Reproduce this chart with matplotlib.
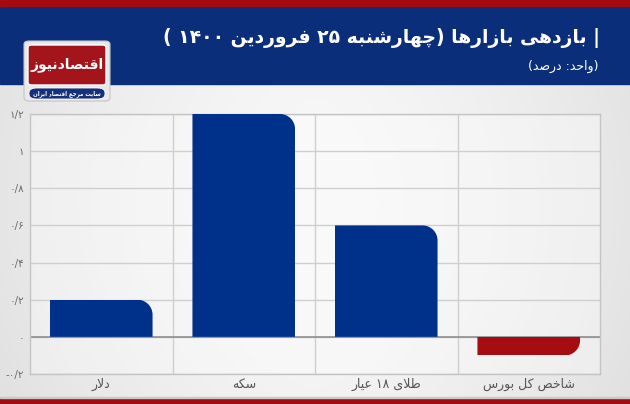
import matplotlib
matplotlib.use("Agg")
import matplotlib.pyplot as plt
import numpy as np
from matplotlib.path import Path
from matplotlib.patches import Rectangle, FancyBboxPatch
from matplotlib.transforms import IdentityTransform

# ---------------- data ----------------
categories = ["دلار", "سکه", "طلای ۱۸ عیار", "شاخص کل بورس"]
values = [0.2, 1.2, 0.6, -0.1]
bar_colors = ["#00318a", "#00318a", "#00318a", "#a50d12"]
yticks = [-0.2, 0.0, 0.2, 0.4, 0.6, 0.8, 1.0, 1.2]
ytick_labels = ["-۰/۲", "۰", "۰/۲", "۰/۴", "۰/۶", "۰/۸", "۱", "۱/۲"]
title = "| بازدهی بازارها (چهارشنبه ۲۵ فروردین ۱۴۰۰ )"
subtitle = "(واحد: درصد)"
logo_main = "اقتصادنیوز"
logo_sub = "سایت مرجع اقتصاد ایران"

# ---------------- minimal Persian shaper ----------------
FORMS = {
    'ا': ('\uFE8D', '\uFE8E', None, None),
    'ب': ('\uFE8F', '\uFE90', '\uFE91', '\uFE92'),
    'ت': ('\uFE95', '\uFE96', '\uFE97', '\uFE98'),
    'ج': ('\uFE9D', '\uFE9E', '\uFE9F', '\uFEA0'),
    'ح': ('\uFEA1', '\uFEA2', '\uFEA3', '\uFEA4'),
    'خ': ('\uFEA5', '\uFEA6', '\uFEA7', '\uFEA8'),
    'د': ('\uFEA9', '\uFEAA', None, None),
    'ر': ('\uFEAD', '\uFEAE', None, None),
    'ز': ('\uFEAF', '\uFEB0', None, None),
    'س': ('\uFEB1', '\uFEB2', '\uFEB3', '\uFEB4'),
    'ش': ('\uFEB5', '\uFEB6', '\uFEB7', '\uFEB8'),
    'ص': ('\uFEB9', '\uFEBA', '\uFEBB', '\uFEBC'),
    'ط': ('\uFEC1', '\uFEC2', '\uFEC3', '\uFEC4'),
    'ع': ('\uFEC9', '\uFECA', '\uFECB', '\uFECC'),
    'ف': ('\uFED1', '\uFED2', '\uFED3', '\uFED4'),
    'ق': ('\uFED5', '\uFED6', '\uFED7', '\uFED8'),
    'ل': ('\uFEDD', '\uFEDE', '\uFEDF', '\uFEE0'),
    'م': ('\uFEE1', '\uFEE2', '\uFEE3', '\uFEE4'),
    'ن': ('\uFEE5', '\uFEE6', '\uFEE7', '\uFEE8'),
    'ه': ('\uFEE9', '\uFEEA', '\uFEEB', '\uFEEC'),
    'و': ('\uFEED', '\uFEEE', None, None),
    'ی': ('\uFBFC', '\uFBFD', '\uFBFE', '\uFBFF'),
    'ک': ('\uFB8E', '\uFB8F', '\uFB90', '\uFB91'),
    'چ': ('\uFB7A', '\uFB7B', '\uFB7C', '\uFB7D'),
}
RIGHT_ONLY = set('ادذرزژو')


def _joins_next(c):
    return c in FORMS and c not in RIGHT_ONLY


def shape(text):
    out = []
    n = len(text)
    i = 0
    while i < n:
        c = text[i]
        if c not in FORMS:
            out.append(c)
            i += 1
            continue
        jp = i > 0 and _joins_next(text[i - 1])
        if c == 'ل' and i + 1 < n and text[i + 1] == 'ا':
            out.append('\uFEFC' if jp else '\uFEFB')
            i += 2
            continue
        jn = _joins_next(c) and i + 1 < n and text[i + 1] in FORMS
        iso, fin, ini, med = FORMS[c]
        if jp and jn:
            out.append(med)
        elif jp:
            out.append(fin)
        elif jn:
            out.append(ini)
        else:
            out.append(iso)
        i += 1
    return ''.join(out)


DIGITS = set('۰۱۲۳۴۵۶۷۸۹0123456789')
MIRROR = {'(': ')', ')': '('}


def rtl(text):
    s = shape(text)
    tokens = []
    cur = ''
    cur_d = None
    for ch in s:
        d = ch in DIGITS
        if cur and d != cur_d:
            tokens.append((cur, cur_d))
            cur = ''
        cur += ch
        cur_d = d
    if cur:
        tokens.append((cur, cur_d))
    vis = []
    for tok, d in reversed(tokens):
        if d:
            vis.append(tok)
        else:
            vis.append(''.join(MIRROR.get(c, c) for c in reversed(tok)))
    return ''.join(vis)


# ---------------- figure ----------------
W, H = 630, 404
fig = plt.figure(figsize=(W / 100, H / 100), dpi=100)
plt.rcParams['font.family'] = ['DejaVu Sans']

# background gradient
bg = fig.add_axes([0, 0, 1, 1], zorder=-10)
xx = np.linspace(-1, 1, 300)
yy = np.linspace(-1, 1, 200)
X, Y = np.meshgrid(xx, yy)
grad = 0.97 - 0.07 * (np.abs(X) ** 1.6) - 0.02 * (np.abs(Y) ** 2)
bg.imshow(np.dstack([grad] * 3), aspect='auto', extent=[0, 1, 0, 1],
          interpolation='bilinear')
bg.set_xlim(0, 1)
bg.set_ylim(0, 1)
bg.axis('off')

# header band
bg.add_patch(Rectangle((0, 1 - 84 / H), 1, 78 / H, color="#0b2e7b", zorder=2))
bg.add_patch(Rectangle((0, 1 - 6 / H), 1, 6 / H, color="#a30b10", zorder=3))
bg.add_patch(Rectangle((0, 0), 1, 6 / H, color="#a30b10", zorder=3))
bg.add_patch(Rectangle((0, 6 / H), 1, 1.5 / H, color="#c9c9c9", zorder=3))

# logo
bg.add_patch(FancyBboxPatch((24 / W, 1 - 101 / H), 86 / W, 60 / H,
                            boxstyle="round,pad=0,rounding_size=0.008",
                            facecolor="#e9e9e9", edgecolor="#c4c4c4",
                            linewidth=0.8, zorder=4))
bg.add_patch(FancyBboxPatch((28 / W, 1 - 85 / H), 78 / W, 40 / H,
                            boxstyle="round,pad=0,rounding_size=0.006",
                            facecolor="#a3151a", edgecolor="white",
                            linewidth=1.0, zorder=5))
bg.add_patch(FancyBboxPatch((29 / W, 1 - 99 / H), 76 / W, 11 / H,
                            boxstyle="round,pad=0,rounding_size=0.012",
                            facecolor="#16307a", edgecolor="white",
                            linewidth=0.6, zorder=5))
bg.text(67 / W, 1 - 65 / H, rtl(logo_main), color="white", fontsize=10,
        fontweight='bold', ha='center', va='center', zorder=6)
bg.text(67 / W, 1 - 93.5 / H, rtl(logo_sub), color="white", fontsize=4,
        fontweight='bold', ha='center', va='center', zorder=6)

# titles
bg.text(600 / W, 1 - 38 / H, rtl(title), color="white", fontsize=13.5,
        fontweight='bold', ha='right', va='center', zorder=6)
bg.text(598 / W, 1 - 66 / H, rtl(subtitle), color="white", fontsize=9,
        ha='right', va='center', zorder=6)

# ---------------- main axes ----------------
ax = fig.add_axes([30 / W, 1 - 374 / H, 570 / W, 260 / H])
ax.set_facecolor((1, 1, 1, 0.35))
x = np.arange(len(categories))
ax.set_xlim(-0.5, len(categories) - 0.5)
ax.set_ylim(yticks[0], yticks[-1])

for yv in yticks:
    ax.axhline(yv, color="#cfcfcf", lw=1.0, zorder=1)
for xv in np.arange(0.5, len(categories) - 0.5, 1.0):
    ax.axvline(xv, color="#cfcfcf", lw=1.0, zorder=1)

bars = ax.bar(x, values, width=0.72, color=bar_colors, zorder=3,
              linewidth=0)
ax.axhline(0, color="#8f8f8f", lw=1.2, zorder=2)

# rounded outer corner on each bar via clip path (pixel space)
fig.canvas.draw()
R = 15.0
k = 0.5523
for b, v in zip(bars, values):
    (x0, y0), (x1, y1) = ax.transData.transform(
        [(b.get_x(), b.get_y()), (b.get_x() + b.get_width(), b.get_y() + b.get_height())])
    xl, xr = min(x0, x1), max(x0, x1)
    yb, yt = min(y0, y1), max(y0, y1)
    r = min(R, (yt - yb), (xr - xl) / 2)
    if v >= 0:
        verts = [(xl, yb), (xr, yb), (xr, yt - r),
                 (xr, yt - r + k * r), (xr - r + k * r, yt), (xr - r, yt),
                 (xl, yt), (xl, yb)]
    else:
        verts = [(xl, yt), (xl, yb), (xr - r, yb),
                 (xr - r + k * r, yb), (xr, yb + r - k * r), (xr, yb + r),
                 (xr, yt), (xl, yt)]
    codes = [Path.MOVETO, Path.LINETO, Path.LINETO,
             Path.CURVE4, Path.CURVE4, Path.CURVE4,
             Path.LINETO, Path.CLOSEPOLY]
    b.set_clip_path(Path(verts, codes), IdentityTransform())

ax.set_yticks(yticks)
ax.set_yticklabels(ytick_labels)
ax.set_xticks(x)
ax.set_xticklabels([rtl(c) for c in categories])
ax.tick_params(axis='y', length=0, pad=4, labelsize=7.5, labelcolor="#6a6a6a")
ax.tick_params(axis='x', length=0, pad=3, labelsize=9, labelcolor="#555555")
for s in ax.spines.values():
    s.set_color("#c4c4c4")
    s.set_linewidth(1.0)

fig.savefig("out.png", dpi=100)
